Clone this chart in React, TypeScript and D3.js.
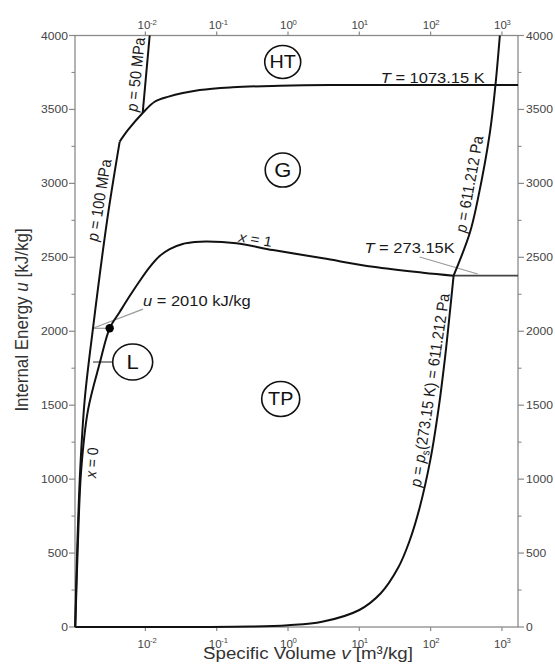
import React from "react";
import * as d3 from "d3";

type Pt = [number, number];

// ---------- axes ----------
const vDomain: [number, number] = [0.00103, 1680];
const uDomain: [number, number] = [0, 4000];
const vTicks = [0.01, 0.1, 1, 10, 100, 1000];
const vTickExponents = ["-2", "-1", "0", "1", "2", "3"];
const uMajorTicks = [0, 500, 1000, 1500, 2000, 2500, 3000, 3500, 4000];
const uMinorTicks = [250, 750, 1250, 1750, 2250, 2750, 3250, 3750];

// ---------- curves (v [m3/kg], u [kJ/kg]) ----------
const satLiquid: Pt[] = [
  [0.00104, 0], [0.001123, 521], [0.001258, 1062], [0.001567, 1467], [0.002286, 1783], [0.003157, 2020],
];
const satVapour: Pt[] = [
  [0.004361, 2130], [0.006022, 2238], [0.008318, 2340], [0.01149, 2434], [0.01587, 2509],
  [0.02192, 2556], [0.03336, 2590], [0.04914, 2603], [0.07238, 2607], [0.1889, 2595], [0.6161, 2549],
  [3.097, 2493], [15.57, 2436], [78.2, 2396], [210, 2376],
];
const p100MPa: Pt[] = [
  [0.001036, 0], [0.001105, 521], [0.001218, 1062], [0.001408, 1535], [0.001841, 2020], [0.00291, 2752], [0.004361, 3282],
];
const p50MPa: Pt[] = [[0.00916, 3476], [0.01149, 4000]];
const iso1073K: Pt[] = [
  [0.004361, 3282], [0.005702, 3361], [0.00916, 3476], [0.0135, 3552], [0.02055, 3585],
  [0.0578, 3631], [0.1677, 3650], [0.7647, 3660], [3.846, 3665], [1680, 3665],
];
const tripleLine: Pt[] = [
  [0.00104, 0], [0.3, 3], [1, 12], [3, 35], [10, 115], [20, 228], [35, 400], [50, 575],
  [70, 805], [100, 1140], [130, 1485], [160, 1830], [190, 2170], [210, 2376],
];
const p611Pa: Pt[] = [[210, 2376], [354, 2664], [458, 2890], [677, 3341], [811, 3665], [935, 4000]];
const iso273K: Pt[] = [[210, 2376], [1680, 2376]];
const criticalPoint: Pt = [0.003157, 2020];

// ---------- annotation anchors (data coords) ----------
const leaderU2010a: Pt[] = [[0.00925, 2150], [0.00184, 2020]];
const leaderU2010b: Pt[] = [[0.00184, 2020], [0.003157, 2020]];
const leaderL: Pt[] = [[0.001844, 1792], [0.00348, 1792]];
const leaderT273: Pt[] = [[70.3, 2502], [457.8, 2387]];

const regionLabels = [
  { t: "HT", v: 0.843, u: 3821, rx: 18, ry: 16.5, fs: 18 },
  { t: "G", v: 0.843, u: 3090, rx: 17.5, ry: 17, fs: 20 },
  { t: "TP", v: 0.79, u: 1542, rx: 19, ry: 17.5, fs: 18 },
  { t: "L", v: 0.006636, u: 1792, rx: 20, ry: 18, fs: 20 },
];

type Part = { t: string; i?: boolean; sub?: boolean };
const lineLabels: { parts: Part[]; v: number; u: number; angle: number; anchor: string; fs: number }[] = [
  { parts: [{ t: "p", i: true }, { t: " = 50 MPa" }], v: 0.00873, u: 3733, angle: -84, anchor: "middle", fs: 14.5 },
  { parts: [{ t: "p", i: true }, { t: " = 100 MPa" }], v: 0.002686, u: 2881, angle: -80.5, anchor: "middle", fs: 14.5 },
  { parts: [{ t: "p", i: true }, { t: " = 611.212 Pa" }], v: 415.4, u: 2989, angle: -79.6, anchor: "middle", fs: 14.5 },
  {
    parts: [{ t: "p", i: true }, { t: " = " }, { t: "p", i: true }, { t: "s", sub: true }, { t: "(273.15 K) = 611.212 Pa" }],
    v: 116.0, u: 1596, angle: -81.5, anchor: "middle", fs: 14.5,
  },
  { parts: [{ t: "x", i: true }, { t: " = 0" }], v: 0.002109, u: 1109, angle: -86, anchor: "middle", fs: 14 },
  { parts: [{ t: "x", i: true }, { t: " = 1" }], v: 0.1989, u: 2607, angle: 9, anchor: "start", fs: 14 },
  { parts: [{ t: "T", i: true }, { t: " = 1073.15 K" }], v: 574, u: 3679, angle: 0, anchor: "end", fs: 15 },
  { parts: [{ t: "T", i: true }, { t: " = 273.15K" }], v: 217.8, u: 2526, angle: 0, anchor: "end", fs: 15 },
  { parts: [{ t: "u", i: true }, { t: " = 2010 kJ/kg" }], v: 0.00925, u: 2171, angle: 0, anchor: "start", fs: 15 },
];

const FONT = "'Liberation Sans', Arial, Helvetica, sans-serif";
const SX = 1.1;

function tr(px: number, py: number, angle = 0) {
  const a = (angle * Math.PI) / 180;
  const a2 = (Math.atan2(SX * Math.sin(a), Math.cos(a)) * 180) / Math.PI;
  return `translate(${px},${py}) scale(${SX},1) rotate(${a2})`;
}

function renderParts(parts: Part[]) {
  let shift = 0;
  return parts.map((p, k) => {
    const target = p.sub ? 3 : 0;
    const dy = target - shift;
    shift = target;
    return (
      <tspan key={k} dy={dy !== 0 ? dy : undefined} fontStyle={p.i ? "italic" : undefined} fontSize={p.sub ? "0.7em" : undefined}>
        {p.t}
      </tspan>
    );
  });
}

export default function App() {
  const L = 75, R = 518, T = 35.5, B = 627;
  const x = d3.scaleLog().domain(vDomain).range([L, R]);
  const y = d3.scaleLinear().domain(uDomain).range([B, T]);
  const smooth = d3.line<Pt>().x((d) => x(d[0])).y((d) => y(d[1])).curve(d3.curveCatmullRom.alpha(0.5));
  const straight = d3.line<Pt>().x((d) => x(d[0])).y((d) => y(d[1]));

  const axisColor = "#8a8a8a";
  const tickText = "#444";
  const curve = "#111";

  return (
    <svg width={555} height={666} style={{ position: "absolute", left: 0, top: 0, background: "#fff" }} fontFamily={FONT}>
      <rect x={0} y={0} width={555} height={666} fill="#fff" />
      {/* frame */}
      <rect x={L} y={T} width={R - L} height={B - T} fill="none" stroke={axisColor} strokeWidth={1.3} />

      {/* y ticks */}
      {uMajorTicks.map((u) => (
        <g key={"ym" + u}>
          <line x1={L - 6} x2={L} y1={y(u)} y2={y(u)} stroke={axisColor} strokeWidth={1.2} />
          <line x1={R} x2={R + 6} y1={y(u)} y2={y(u)} stroke={axisColor} strokeWidth={1.2} />
          <text transform={tr(L - 7, y(u) + 4)} textAnchor="end" fontSize={11} fill={tickText}>{u}</text>
          <text transform={tr(R + 8, y(u) + 4)} textAnchor="start" fontSize={11} fill={tickText}>{u}</text>
        </g>
      ))}
      {uMinorTicks.map((u) => (
        <g key={"yn" + u}>
          <line x1={L - 3.5} x2={L} y1={y(u)} y2={y(u)} stroke={axisColor} strokeWidth={1.1} />
          <line x1={R} x2={R + 3.5} y1={y(u)} y2={y(u)} stroke={axisColor} strokeWidth={1.1} />
        </g>
      ))}

      {/* x ticks */}
      {vTicks.map((v, i) => (
        <g key={"x" + v}>
          <line x1={x(v)} x2={x(v)} y1={T - 4} y2={T} stroke={axisColor} strokeWidth={1.2} />
          <line x1={x(v)} x2={x(v)} y1={B} y2={B + 4} stroke={axisColor} strokeWidth={1.2} />
          <text transform={tr(x(v) - 1.5, 29)} textAnchor="middle" fontSize={10.5} fill={tickText}>10</text>
          <text transform={tr(x(v) + 4.5, 24.5)} textAnchor="start" fontSize={7} fill={tickText}>{vTickExponents[i]}</text>
          <text transform={tr(x(v) - 1.5, 648)} textAnchor="middle" fontSize={10.5} fill={tickText}>10</text>
          <text transform={tr(x(v) + 4.5, 642.5)} textAnchor="start" fontSize={7} fill={tickText}>{vTickExponents[i]}</text>
        </g>
      ))}

      {/* axis titles */}
      <text transform={tr(27.5, 320, -90)} textAnchor="middle" fontSize={17} fill="#333">
        Internal Energy <tspan fontStyle="italic">u</tspan> [kJ/kg]
      </text>
      <text transform={tr(308, 659)} textAnchor="middle" fontSize={17} fill="#333">
        Specific Volume <tspan fontStyle="italic">v</tspan> [m³/kg]
      </text>

      {/* grey helper lines */}
      <path d={straight(iso273K) || ""} fill="none" stroke="#444" strokeWidth={1.6} />
      <path d={straight(leaderU2010a) || ""} fill="none" stroke="#999" strokeWidth={1.2} />
      <path d={straight(leaderU2010b) || ""} fill="none" stroke="#999" strokeWidth={1.2} />
      <path d={straight(leaderL) || ""} fill="none" stroke="#555" strokeWidth={1.3} />
      <path d={straight(leaderT273) || ""} fill="none" stroke="#999" strokeWidth={1.2} />

      {/* main curves */}
      <path d={smooth(tripleLine) || ""} fill="none" stroke={curve} strokeWidth={2} />
      <path d={smooth(p100MPa) || ""} fill="none" stroke={curve} strokeWidth={2} />
      <path d={smooth(satLiquid.concat(satVapour)) || ""} fill="none" stroke={curve} strokeWidth={2} />
      <path d={smooth(iso1073K) || ""} fill="none" stroke={curve} strokeWidth={2} />
      <path d={straight(p50MPa) || ""} fill="none" stroke={curve} strokeWidth={2} />
      <path d={smooth(p611Pa) || ""} fill="none" stroke={curve} strokeWidth={2} />
      <circle cx={x(criticalPoint[0])} cy={y(criticalPoint[1])} r={4.2} fill="#000" />

      {/* region labels */}
      {regionLabels.map((r) => (
        <g key={r.t}>
          <ellipse cx={x(r.v)} cy={y(r.u)} rx={r.rx} ry={r.ry} fill="#fff" stroke="#111" strokeWidth={1.6} />
          <text transform={tr(x(r.v), y(r.u) + r.fs * 0.36)} textAnchor="middle" fontSize={r.fs} fill="#111">{r.t}</text>
        </g>
      ))}

      {/* line labels */}
      {lineLabels.map((l, k) => (
        <text key={k} transform={tr(x(l.v), y(l.u), l.angle)} textAnchor={l.anchor as any} fontSize={l.fs} fill="#1a1a1a">
          {renderParts(l.parts)}
        </text>
      ))}
    </svg>
  );
}
